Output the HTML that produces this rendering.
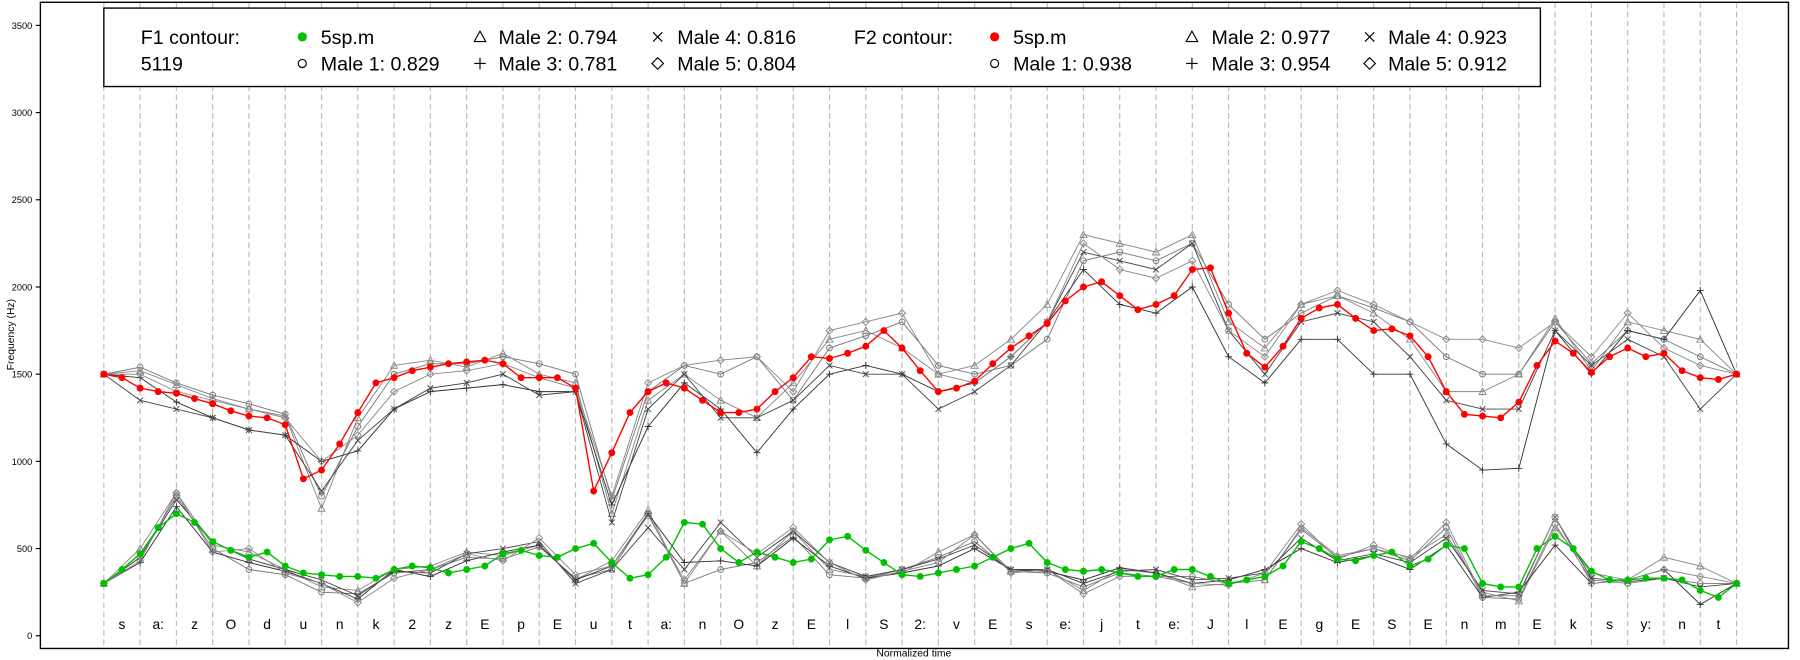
<!DOCTYPE html>
<html><head><meta charset="utf-8"><style>
html,body{margin:0;padding:0;background:#fff}
svg{display:block;font-family:"Liberation Sans",sans-serif}
</style></head><body>
<svg id="chart" width="1800" height="660" viewBox="0 0 1560 572" preserveAspectRatio="none" xmlns="http://www.w3.org/2000/svg">
<rect x="0" y="0" width="1560" height="572" fill="#fff"/>
<g id="grid"></g>
<g id="series"></g>
<g id="axes"></g>
<rect x="35" y="2" width="1515" height="560" fill="none" stroke="#000" stroke-width="1.2"/>
<text x="12" y="290" font-size="9" text-anchor="middle" transform="rotate(-90 12 290)">Frequency (Hz)</text>
<text x="792" y="569" font-size="9" text-anchor="middle">Normalized time</text>
<g>
<rect x="90" y="7" width="1245" height="68" fill="#fff" stroke="#000" stroke-width="1.2"/>
<g font-size="17">
<text x="122" y="38">F1 contour:</text><text x="122" y="61">5119</text>
<circle cx="262" cy="32" r="4" fill="#00c000"/><text x="278" y="38">5sp.m</text>
<circle cx="262" cy="55" r="3.5" fill="none" stroke="#000"/><text x="278" y="61">Male 1: 0.829</text>
<path d="M416 27 L421 36 L411 36 Z" fill="none" stroke="#000"/><text x="432" y="38">Male 2: 0.794</text>
<path d="M411 55 H421 M416 50 V60" stroke="#000"/><text x="432" y="61">Male 3: 0.781</text>
<path d="M566 28 L574 36 M574 28 L566 36" stroke="#000"/><text x="587" y="38">Male 4: 0.816</text>
<path d="M570 50 L575 55 L570 60 L565 55 Z" fill="none" stroke="#000"/><text x="587" y="61">Male 5: 0.804</text>
<text x="740" y="38">F2 contour:</text>
<circle cx="862" cy="32" r="4" fill="#f00"/><text x="878" y="38">5sp.m</text>
<circle cx="862" cy="55" r="3.5" fill="none" stroke="#000"/><text x="878" y="61">Male 1: 0.938</text>
<path d="M1033 27 L1038 36 L1028 36 Z" fill="none" stroke="#000"/><text x="1050" y="38">Male 2: 0.977</text>
<path d="M1028 55 H1038 M1033 50 V60" stroke="#000"/><text x="1050" y="61">Male 3: 0.954</text>
<path d="M1183 28 L1191 36 M1191 28 L1183 36" stroke="#000"/><text x="1203" y="38">Male 4: 0.923</text>
<path d="M1187 50 L1192 55 L1187 60 L1182 55 Z" fill="none" stroke="#000"/><text x="1203" y="61">Male 5: 0.912</text>
</g></g>
</svg>
<script>
const phonemes = ["s","a:","z","O","d","u","n","k","2","z","E","p","E","u","t","a:","n","O","z","E","l","S","2:","v","E","s","e:","j","t","e:","J","l","E","g","E","S","E","n","m","E","k","s","y:","n","t"];
const yTicks = [0,500,1000,1500,2000,2500,3000,3500];
const f2Main = [1500,1480,1420,1400,1390,1360,1330,1290,1260,1250,1210,900,950,1100,1280,1450,1480,1520,1540,1560,1570,1580,1560,1480,1480,1480,1420,830,1050,1280,1400,1450,1420,1350,1280,1280,1300,1400,1480,1600,1590,1620,1660,1750,1650,1520,1400,1420,1460,1560,1650,1720,1790,1920,2000,2030,1950,1870,1900,1950,2100,2110,1850,1620,1540,1660,1820,1880,1900,1820,1750,1760,1720,1600,1400,1270,1260,1250,1340,1550,1690,1620,1510,1600,1650,1600,1620,1520,1480,1470,1500];
const f1Main = [300,380,470,620,700,650,540,490,450,480,400,360,350,340,340,330,380,400,390,360,380,400,470,490,460,450,500,530,420,330,350,450,650,640,500,420,480,450,420,440,550,570,490,420,350,340,360,380,400,450,500,530,420,380,370,380,360,340,340,380,380,340,300,320,340,400,540,500,440,430,460,480,400,440,520,500,300,280,280,500,570,500,370,320,320,330,330,320,260,220,300];
const f2Male1 = [1500,1540,1450,1380,1330,1270,800,1200,1500,1560,1560,1600,1560,1500,780,1400,1550,1500,1600,1350,1650,1720,1800,1550,1500,1550,1700,2150,2200,2150,2250,1900,1700,1850,1950,1880,1800,1600,1500,1500,1800,1560,1750,1700,1600,1500];
const f2Male2 = [1500,1520,1440,1360,1300,1260,730,1250,1550,1580,1540,1620,1500,1450,700,1350,1500,1350,1250,1450,1700,1750,1650,1500,1550,1700,1900,2300,2250,2200,2300,1800,1650,1900,1950,1850,1700,1400,1400,1500,1820,1520,1800,1750,1700,1500];
const f2Male3 = [1500,1480,1340,1250,1180,1150,1000,1060,1300,1400,1420,1440,1400,1400,750,1200,1450,1300,1050,1300,1500,1550,1500,1400,1450,1600,1800,2100,1900,1850,2000,1600,1450,1700,1700,1500,1500,1100,950,960,1750,1500,1750,1700,1980,1500];
const f2Male4 = [1500,1350,1300,1250,1180,1150,830,1120,1300,1420,1450,1500,1380,1400,650,1300,1500,1250,1250,1350,1550,1500,1500,1300,1400,1550,1800,2200,2150,2100,2250,1750,1500,1800,1850,1800,1600,1350,1300,1300,1750,1550,1700,1600,1300,1500];
const f2Male5 = [1500,1500,1400,1350,1300,1250,1000,1150,1400,1500,1520,1560,1480,1420,800,1450,1550,1580,1600,1400,1750,1800,1850,1500,1450,1600,1800,2250,2100,2050,2150,1750,1600,1900,1980,1900,1800,1700,1700,1650,1800,1600,1850,1650,1550,1500];
const f1Male1 = [300,450,800,500,380,350,250,240,360,380,450,440,510,330,380,700,300,380,420,570,350,330,380,450,540,370,360,280,360,340,340,300,320,610,450,500,430,620,220,210,640,320,300,330,300,300];
const f1Male2 = [300,500,820,520,480,380,280,260,380,400,480,460,520,320,430,720,300,600,400,600,380,340,360,480,580,370,380,260,380,360,280,300,320,620,460,500,450,580,250,200,620,360,320,450,400,300];
const f1Male3 = [300,420,740,480,420,370,300,210,380,340,430,480,520,320,400,700,420,430,400,560,400,330,360,400,500,380,370,320,390,360,300,320,380,500,420,460,380,520,220,250,520,300,320,380,180,300];
const f1Male4 = [300,450,780,540,440,380,320,230,370,360,470,500,540,300,380,620,380,650,450,600,420,340,380,440,520,380,380,300,370,380,320,330,360,560,430,470,420,560,260,240,680,330,310,330,280,300];
const f1Male5 = [300,430,820,480,500,360,300,190,330,380,470,430,560,350,400,690,320,600,470,620,420,320,370,420,580,360,380,240,340,340,300,290,360,640,440,520,440,650,230,230,680,300,320,380,340,300];

const NS="http://www.w3.org/2000/svg";
const X0=90, X1=1505, Y0=551, PXHZ=529/3500;
const nSeg=phonemes.length;
function xScale(t){return X0+(X1-X0)*t/nSeg;}
function yScale(v){return Y0-v*PXHZ;}
function mk(tag,attrs,parent){const e=document.createElementNS(NS,tag);for(const k in attrs)e.setAttribute(k,attrs[k]);parent.appendChild(e);return e;}
const grid=document.getElementById('grid'),axes=document.getElementById('axes'),ser=document.getElementById('series');
for(let i=0;i<=nSeg;i++){
  const l=mk('line',{x1:xScale(i),x2:xScale(i),y1:2,y2:562,stroke:'#bbb','stroke-dasharray':'5,3','stroke-width':1},grid);
  
  
}
phonemes.forEach((p,i)=>{
  const t=mk('text',{x:xScale(i+0.5),y:545,'font-size':12,'text-anchor':'middle'},axes);
  t.textContent=p;
  
  
});
yTicks.forEach(v=>{
  const y=yScale(v);
  const l=mk('line',{x1:31,x2:35,y1:y,y2:y,stroke:'#000'},axes);
  
  
  const t=mk('text',{x:28,y:y+3,'font-size':8,'text-anchor':'end'},axes);
  t.textContent=v;
  
  
});
function marker(g,type,x,y,col){
  let e;
  if(type==='circle')e=mk('circle',{cx:x,cy:y,r:2.5,fill:'none',stroke:col,'stroke-width':0.8},g);
  else if(type==='tri')e=mk('path',{d:`M${x} ${y-3}L${x+3} ${y+2.5}L${x-3} ${y+2.5}Z`,fill:'none',stroke:col,'stroke-width':0.8},g);
  else if(type==='plus')e=mk('path',{d:`M${x-3} ${y}H${x+3}M${x} ${y-3}V${y+3}`,stroke:col,'stroke-width':0.8},g);
  else if(type==='cross')e=mk('path',{d:`M${x-2.5} ${y-2.5}L${x+2.5} ${y+2.5}M${x+2.5} ${y-2.5}L${x-2.5} ${y+2.5}`,stroke:col,'stroke-width':0.8},g);
  else e=mk('path',{d:`M${x} ${y-3}L${x+3} ${y}L${x} ${y+3}L${x-3} ${y}Z`,fill:'none',stroke:col,'stroke-width':0.8},g);
  
  
}
function drawMale(vals,type,col,name){
  const g=mk('g',{},ser);
  
  
  const step=nSeg/(vals.length-1);
  const pts=vals.map((v,i)=>xScale(i*step)+','+yScale(v)).join(' ');
  mk('polyline',{points:pts,fill:'none',stroke:col,'stroke-width':0.8},g);
  vals.forEach((v,i)=>marker(g,type,xScale(i*step),yScale(v),col));
}
const males=[[f2Male1,f1Male1,'circle','#777','male-1'],[f2Male2,f1Male2,'tri','#888','male-2'],[f2Male3,f1Male3,'plus','#333','male-3'],[f2Male4,f1Male4,'cross','#444','male-4'],[f2Male5,f1Male5,'diamond','#888','male-5']];
males.forEach(m=>{drawMale(m[0],m[2],m[3],m[4]+'-f2-series');drawMale(m[1],m[2],m[3],m[4]+'-f1-series');});
function drawMain(vals,col,name){
  const g=mk('g',{},ser);
  
  
  const step=nSeg/(vals.length-1);
  mk('polyline',{points:vals.map((v,i)=>xScale(i*step)+','+yScale(v)).join(' '),fill:'none',stroke:col,'stroke-width':1.2},g);
  vals.forEach((v,i)=>{
    const c=mk('circle',{cx:xScale(i*step),cy:yScale(v),r:3,fill:col},g);
    
    
  });
}
drawMain(f2Main,'#f00','f2-5sp-series');
drawMain(f1Main,'#00c000','f1-5sp-series');
</script>
</body></html>
